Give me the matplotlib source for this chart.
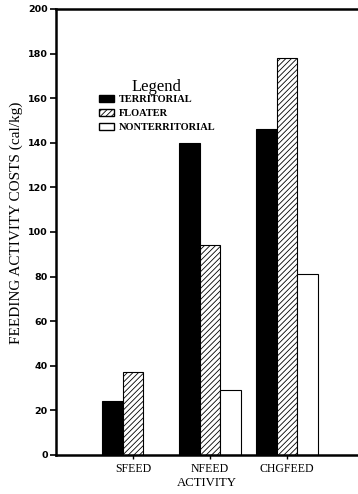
import numpy as np
import matplotlib.pyplot as plt
from matplotlib.patches import Patch

# data
activities = ['SFEED', 'NFEED', 'CHGFEED']
territorial = [24, 140, 146]
floater = [37, 94, 178]
nonterritorial = [0, 29, 81]
yticks = list(range(0, 201, 20))

fig = plt.figure(figsize=(3.58, 4.94), dpi=100)
ax = fig.add_axes([0.1564, 0.079, 0.8436, 0.9028])

x = np.arange(len(activities))
w = 0.8 / 3
plt.rcParams['hatch.linewidth'] = 0.6

ax.bar(x - w, territorial, w, color='black', edgecolor='black', linewidth=0.8)
ax.bar(x, floater, w, color='white', edgecolor='black', hatch='//////', linewidth=0.8)
nt = [v if v > 0 else np.nan for v in nonterritorial]
ax.bar(x + w, nt, w, color='white', edgecolor='black', linewidth=0.8)

ax.set_xlim(-1.0, 2.92)
ax.set_ylim(0, 200)
ax.set_yticks(yticks)
ax.set_yticklabels([str(t) for t in yticks], fontfamily='DejaVu Sans',
                   fontweight='bold', fontsize=6.8)
ax.set_xticks(x)
ax.set_xticklabels(activities, fontfamily='Liberation Serif', fontsize=8.5)
ax.tick_params(axis='y', direction='out', length=4, width=1.2, pad=2)
ax.tick_params(axis='x', direction='out', length=3, width=1, pad=3)

ax.spines['right'].set_visible(False)
for s in ['left', 'bottom', 'top']:
    ax.spines[s].set_linewidth(1.8)

ax.set_xlabel('ACTIVITY', fontfamily='Liberation Serif', fontsize=9.2, labelpad=1)
ax.set_ylabel('FEEDING ACTIVITY COSTS (cal/kg)', fontfamily='Liberation Serif',
              fontsize=11, labelpad=3)
ax.yaxis.set_label_coords(-0.108, 0.52)

handles = [Patch(facecolor='black', edgecolor='black'),
           Patch(facecolor='white', edgecolor='black', hatch='//////'),
           Patch(facecolor='white', edgecolor='black')]
leg = ax.legend(handles, ['TERRITORIAL', 'FLOATER', 'NONTERRITORIAL'],
                title='Legend', loc='upper left', bbox_to_anchor=(0.11, 0.865),
                frameon=False, handlelength=1.5, handleheight=0.7,
                handletextpad=0.4, labelspacing=0.45,
                prop={'family': 'Liberation Serif', 'weight': 'bold', 'size': 7.5})
leg.get_title().set_fontfamily('Liberation Serif')
leg.get_title().set_fontsize(12)
leg._legend_box.sep = 0

fig.savefig('out.png', dpi=100)
